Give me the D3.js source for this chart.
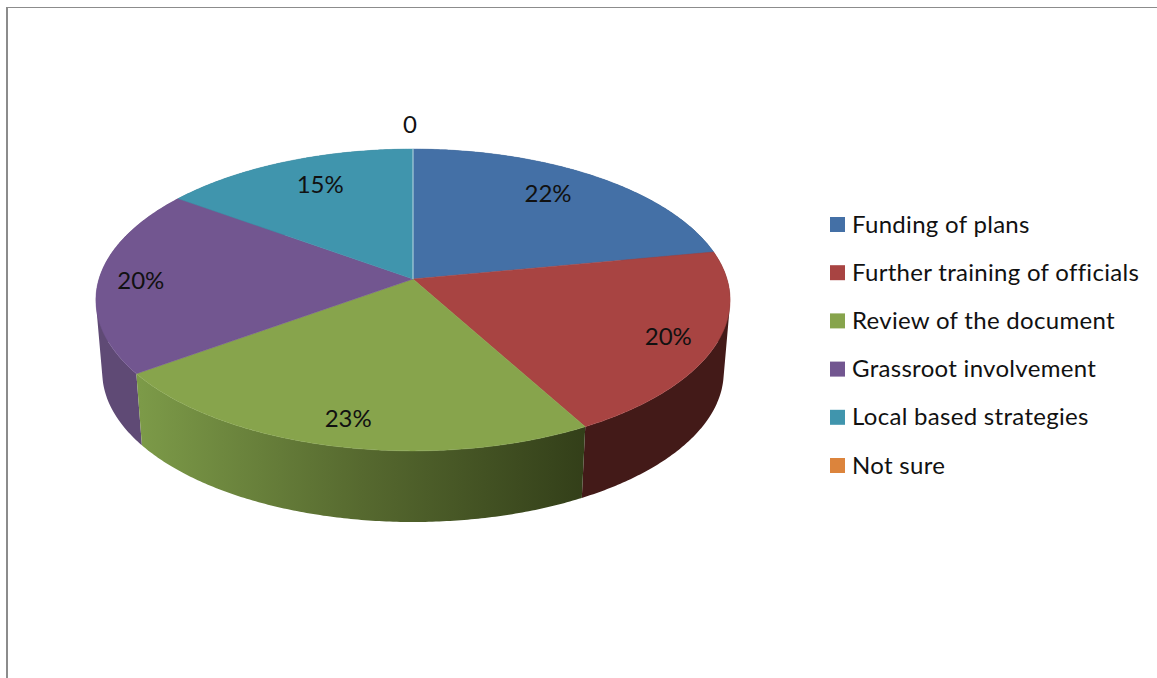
<!DOCTYPE html>
<html>
<head>
<meta charset="utf-8">
<script src="https://cdn.jsdelivr.net/npm/d3@7"></script>
<style>
  html, body { margin: 0; padding: 0; background: #fff; }
  svg { display: block; }
  text { font-family: Lato, "Open Sans", sans-serif; fill: #111; }
</style>
</head>
<body>
<div id="chart-area"></div>
<script>
var width = 1157,
    height = 678;

// data
var categories = ["Funding of plans", "Further training of officials", "Review of the document",
                  "Grassroot involvement", "Local based strategies", "Not sure"];
var values = [22, 20, 23, 20, 15, 0];
var valueLabels = ["22%", "20%", "23%", "20%", "15%", "0"];

// colours and label placing
var colors = ["#4470a6", "#a84442", "#87a44c", "#725690", "#4095ad", "#dc843c"];
var sideColors = ["#2c4a70", "#431a18", "url(#greenSide)", "#5f4a75", "#2c6a7c", "#8a5020"];
var labelRadius = [0.78, 0.85, 0.85, 0.87, 0.75, 1.23];
var labelNudge = [[-9, -4], [1, 0], [1, 0], [1, 0], [5, -5], [-3, 0]];

var cx = 413,
    cy = 279,
    rx = 314,
    ry = 148,
    tilt = 0.139;   // perspective: near edge of the disc looks bigger

// bottom rim ellipse
var rimY = 372,
    rimRy = 150,
    rimScale = 0.98,
    rimRx = rimScale * rx / Math.sqrt(1 - tilt * tilt);

var svg = d3.select("#chart-area").append("svg")
    .attr("width", width)
    .attr("height", height);

var defs = svg.append("defs");
var grad = defs.append("linearGradient")
    .attr("id", "greenSide")
    .attr("gradientUnits", "userSpaceOnUse")
    .attr("x1", 140).attr("x2", 584)
    .attr("y1", 0).attr("y2", 0);
grad.append("stop").attr("offset", "0%").attr("stop-color", "#7c9a48");
grad.append("stop").attr("offset", "50%").attr("stop-color", "#56692f");
grad.append("stop").attr("offset", "100%").attr("stop-color", "#333f19");

// page frame
svg.append("line").attr("x1", 7).attr("x2", 7).attr("y1", 7).attr("y2", height)
    .attr("stroke", "#8c8c8c").attr("stroke-width", 2);
svg.append("line").attr("x1", 6).attr("x2", width).attr("y1", 7.5).attr("y2", 7.5)
    .attr("stroke", "#8c8c8c").attr("stroke-width", 1);

var pie = d3.pie().sort(null).value(d => d);
var slices = pie(values);

// angle is clockwise from 12 o'clock
function top3d(angle, r) {
  var u = Math.sin(angle) * r,
      v = -Math.cos(angle) * r,
      w = 1 - tilt * v;
  return [cx + rx * u / w, cy + ry * v / w];
}

// bottom rim: same x as the top edge, a bit narrower, y taken from the rim ellipse
function bottom3d(angle) {
  var v = -Math.cos(angle),
      dx = rimScale * (top3d(angle, 1)[0] - cx),
      s = Math.sqrt(Math.max(0, 1 - (dx / rimRx) * (dx / rimRx)));
  return [cx + dx, rimY + (v > tilt ? 1 : -1) * rimRy * s];
}

function arcAngles(d) {
  var n = Math.max(1, Math.ceil((d.endAngle - d.startAngle) / 0.01));
  return d3.range(n + 1).map(i => d.startAngle + (d.endAngle - d.startAngle) * i / n);
}

var line = d3.line();

// i) SIDE WALLS, back ones first. One quad per step, all wound the same way,
// otherwise the overlap at the silhouette cancels out and leaves a notch
var sideOrder = [0, 4, 3, 1, 2];
svg.selectAll(".side")
    .data(sideOrder.map(i => slices[i]))
    .enter()
    .append("path")
    .attr("class", "side")
    .attr("fill", d => sideColors[d.index])
    .attr("d", function(d) {
      return d3.pairs(arcAngles(d)).map(function(p) {
        var quad = [top3d(p[0], 1), top3d(p[1], 1), bottom3d(p[1]), bottom3d(p[0])];
        if (d3.polygonArea(quad) < 0) quad.reverse();
        return line(quad) + "Z";
      }).join("");
    });

// ii) TOP FACE
svg.selectAll(".slice")
    .data(slices.filter(d => d.value > 0))
    .enter()
    .append("path")
    .attr("class", "slice")
    .attr("fill", d => colors[d.index])
    .attr("stroke", d => colors[d.index])
    .attr("stroke-width", 0.5)
    .attr("d", function(d) {
      return line([top3d(0, 0)].concat(arcAngles(d).map(t => top3d(t, 1)))) + "Z";
    });

// the empty "Not sure" slice only shows as a pale line at 12 o'clock
var zero = slices[5];
svg.append("path")
    .attr("fill", "none")
    .attr("stroke", "#bcd6e0")
    .attr("stroke-width", 1)
    .attr("d", line([top3d(zero.startAngle, 0), top3d(zero.startAngle, 1)]));

// iii) VALUE LABELS
svg.selectAll(".value-label")
    .data(slices)
    .enter()
    .append("text")
    .attr("class", "value-label")
    .attr("text-anchor", "middle")
    .attr("dominant-baseline", "central")
    .attr("font-size", 24)
    .attr("x", d => top3d((d.startAngle + d.endAngle) / 2, labelRadius[d.index])[0] + labelNudge[d.index][0])
    .attr("y", d => top3d((d.startAngle + d.endAngle) / 2, labelRadius[d.index])[1] + labelNudge[d.index][1])
    .text(d => valueLabels[d.index]);

// iv) LEGEND
var legendY = d3.scalePoint()
    .domain(categories)
    .range([224.5, 465.5]);

var legend = svg.selectAll(".legend")
    .data(categories)
    .enter()
    .append("g")
    .attr("class", "legend")
    .attr("transform", d => "translate(830," + legendY(d) + ")");

legend.append("rect")
    .attr("y", -7.5)
    .attr("width", 15)
    .attr("height", 15)
    .attr("fill", (d, i) => colors[i]);

legend.append("text")
    .attr("x", 22)
    .attr("y", -1.5)
    .attr("dominant-baseline", "central")
    .attr("font-size", 24)
    .attr("letter-spacing", 0.3)
    .text(d => d);
</script>
</body>
</html>
